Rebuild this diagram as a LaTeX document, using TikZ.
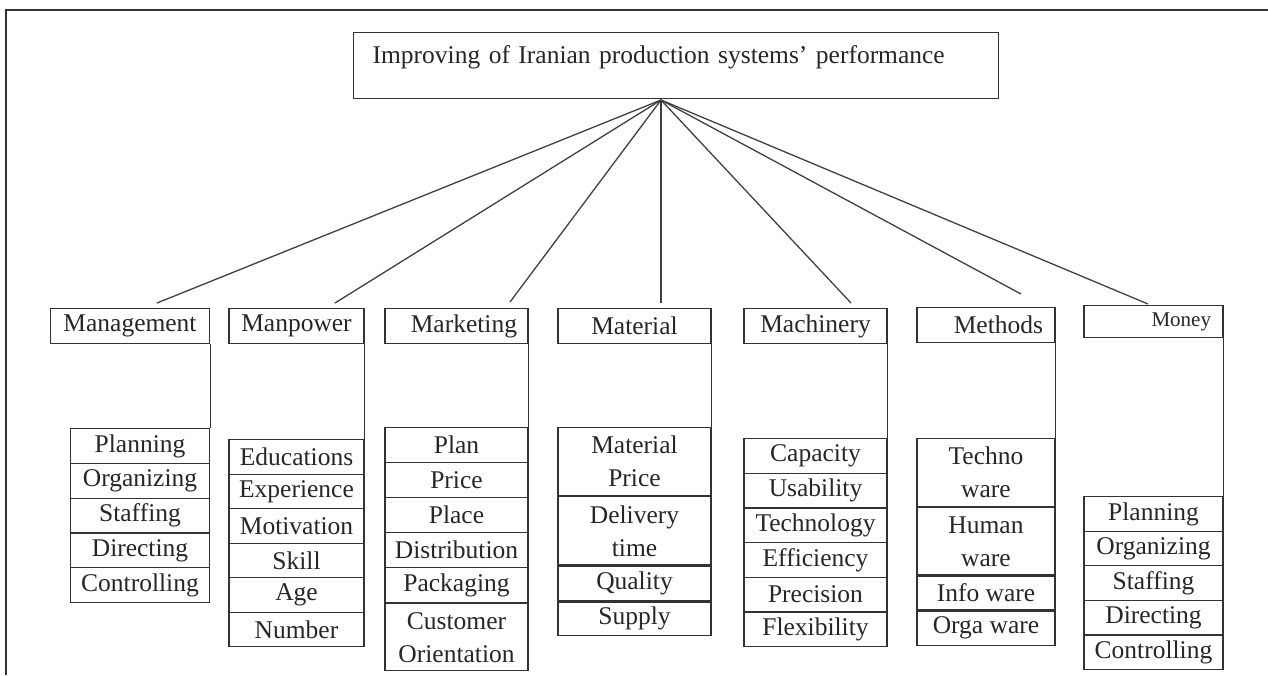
\documentclass[tikz,border=0pt]{standalone}
\usepackage{fontspec}
\setmainfont{Liberation Serif}
\usetikzlibrary{positioning}

\begin{document}
\begin{tikzpicture}[x=1pt,y=-1pt,
    every node/.style={font=\fontsize{25.5pt}{33pt}\selectfont,text=black!85},
    goalbox/.style={rectangle,draw=black!80,line width=1.2pt,inner ysep=0pt,inner xsep=19pt,
      text width=607pt,align=left,text height=31pt,text depth=35pt,anchor=north west},
    head/.style={rectangle,draw=black!80,line width=1.2pt,inner sep=0pt,minimum height=35pt,anchor=north},
    item/.style={rectangle,draw=black!80,line width=1.2pt,inner sep=0pt,minimum height=34.7pt,anchor=north,align=center},
    spoke/.style={line width=1.3pt,draw=black!75},
    link/.style={line width=1.2pt,draw=black!80}]
    \useasboundingbox (0,0) rectangle (1268,675);
    % frame, cut by the page on the right and at the bottom
    \draw[line width=1.6pt,black!80] (6,675) -- (6,10) -- (1268,10);

    % goal on top
    \node[goalbox] (goal) at (353,32) {Improving of Iranian production systems’ performance};
    \coordinate (apex) at (661,100);

    % the seven M's
    \node[head,minimum width=159pt] (mgmt) at (130,308) {Management};
    \node[head,minimum width=135pt] (manp) at (296.5,308) {Manpower};
    \node[head,text width=121pt,inner xsep=11pt,align=right] (mark) at (456.5,308) {Marketing};
    \node[head,minimum width=153pt] (matl) at (634.5,308) {Material};
    \node[head,minimum width=143pt] (mach) at (815.5,308) {Machinery};
    \node[head,text width=114pt,inner xsep=12pt,align=right] (meth) at (986,307) {Methods};
    \node[head,text width=115pt,inner xsep=12pt,align=right,minimum height=32pt,
      font=\fontsize{21pt}{26pt}\selectfont] (money) at (1153.5,305) {Money};

    % free ends of the spokes
    \coordinate (mgmt-top) at (157,303);
    \coordinate (manp-top) at (335,303);
    \coordinate (mark-top) at (510,302);
    \coordinate (matl-top) at (661,303);
    \coordinate (mach-top) at (851,303);
    \coordinate (meth-top) at (1021,294);
    \coordinate (money-top) at (1148,304);
    \foreach \n in {mgmt,manp,mark,matl,mach,meth,money}
      \draw[spoke] (apex) -- (\n-top);

    % Management
    \foreach \t [count=\i from 0] in {Planning,Organizing,Staffing,Directing,Controlling}
      \node[item,minimum width=139pt,minimum height=34.8pt] (mgmt\i) at (140,{428+34.8*\i}) {\t};
    % Manpower
    \foreach \t [count=\i from 0] in {Educations,Experience,Motivation,Skill,Age,Number}
      \node[item,minimum width=135pt,minimum height=34.5pt] (manp\i) at (296.5,{439+34.5*\i}) {\t};
    % Marketing
    \foreach \t [count=\i from 0] in {Plan,Price,Place,Distribution,Packaging}
      \node[item,minimum width=143pt,minimum height=35pt] (mark\i) at (456.5,{427+35*\i}) {\t};
    \node[item,minimum width=143pt,minimum height=67pt,below=0pt of mark4] (mark5) {Customer\\Orientation};
    % Material
    \node[item,minimum width=153pt,minimum height=68pt] (matl0) at (634.5,427) {Material\\Price};
    \node[item,minimum width=153pt,minimum height=68pt,below=0pt of matl0] (matl1) {Delivery\\time};
    \node[item,minimum width=153pt,minimum height=35pt,below=0pt of matl1] (matl2) {Quality};
    \node[item,minimum width=153pt,minimum height=33pt,below=0pt of matl2] (matl3) {Supply};
    % Machinery
    \foreach \t [count=\i from 0] in {Capacity,Usability,Technology,Efficiency,Precision,Flexibility}
      \node[item,minimum width=143pt,minimum height=34.67pt] (mach\i) at (815.5,{438+34.67*\i}) {\t};
    % Methods
    \node[item,minimum width=138pt,minimum height=68pt] (meth0) at (986,438) {Techno\\ware};
    \node[item,minimum width=138pt,minimum height=67pt,below=0pt of meth0] (meth1) {Human\\ware};
    \node[item,minimum width=138pt,minimum height=34pt,below=0pt of meth1] (meth2) {Info ware};
    \node[item,minimum width=138pt,minimum height=34pt,below=0pt of meth2] (meth3) {Orga ware};
    % Money
    \foreach \t [count=\i from 0] in {Planning,Organizing,Staffing,Directing,Controlling}
      \node[item,minimum width=139pt,minimum height=34.6pt] (money\i) at (1153.5,{496+34.6*\i}) {\t};

    % headers down to their lists
    \foreach \n in {mgmt,manp,mark,matl,mach,meth,money}
      \draw[link] (\n.south east) -- (\n0.north east);
\end{tikzpicture}
\end{document}
